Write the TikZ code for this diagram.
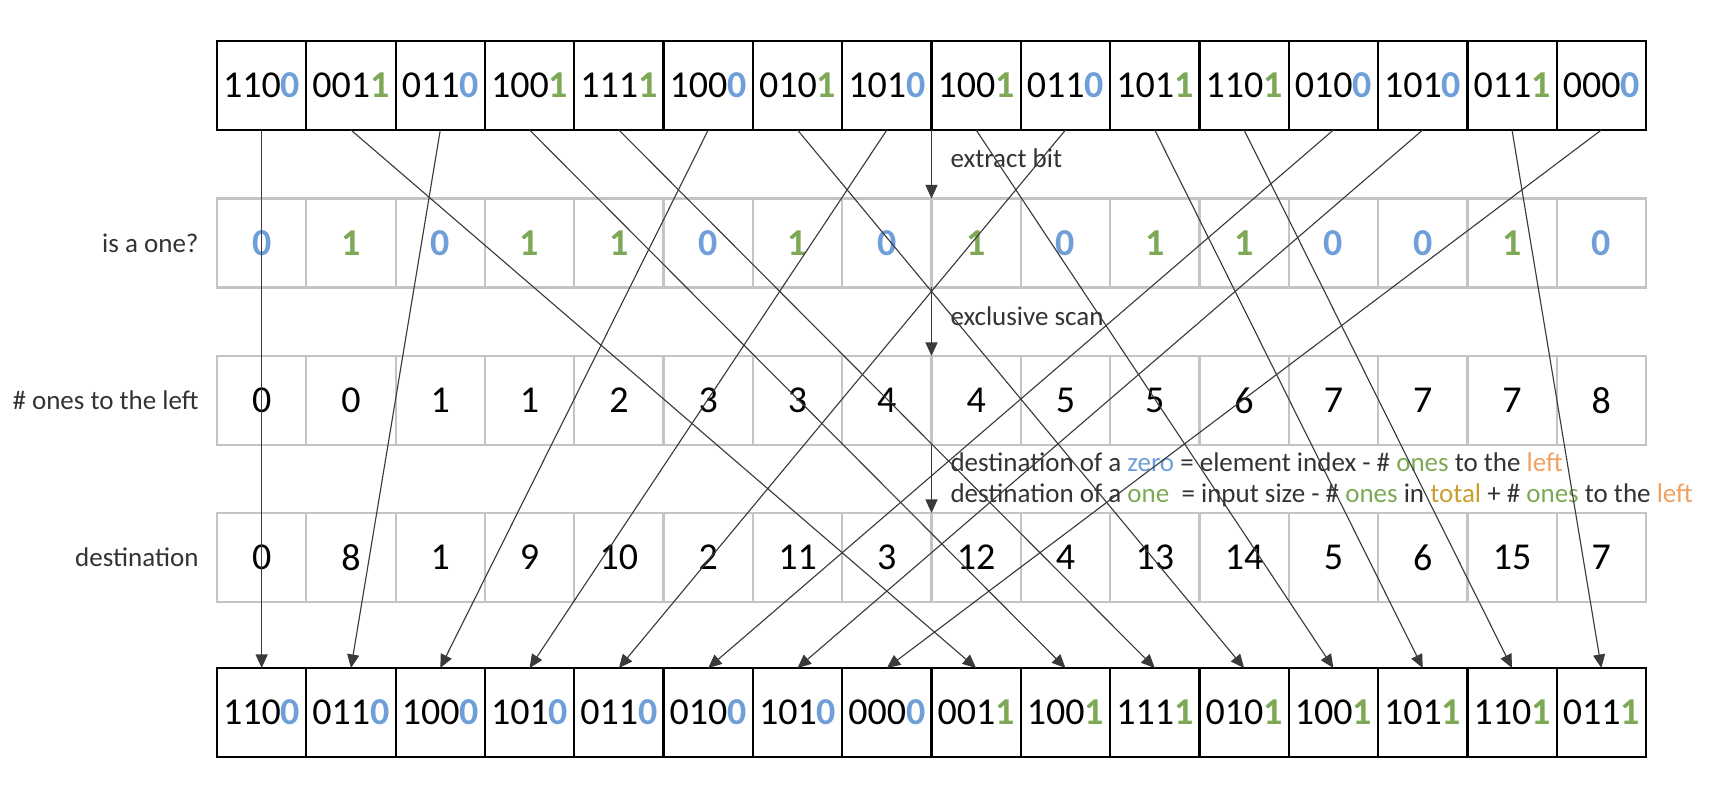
\documentclass[tikz,border=0pt]{standalone}
\usepackage{fontspec}
\setmainfont{Carlito}
\usetikzlibrary{arrows.meta}
\definecolor{zc}{HTML}{6F9FD8}
\definecolor{oc}{HTML}{7DA957}
\definecolor{lc}{HTML}{F0A060}
\definecolor{tc}{HTML}{C9A030}
\definecolor{gc}{HTML}{C4C4C4}
\definecolor{lnc}{HTML}{3A3A3A}
\definecolor{txc}{HTML}{333333}
\begin{document}
\begin{tikzpicture}[x=0.4pt,y=-0.4pt,
  cellbase/.style={minimum width=35.725pt, minimum height=35.6pt, inner sep=0pt, outer sep=0pt, font=\fontsize{15.2}{18}\selectfont},
  cellbk/.style={cellbase, draw=black, line width=0.9pt},
  cellgr/.style={cellbase, draw=gc, line width=0.9pt},
  lab/.style={font=\fontsize{10.8}{13}\selectfont, text=txc, anchor=east, inner sep=0pt},
  ann/.style={font=\fontsize{10.8}{13}\selectfont, text=txc, anchor=west, inner sep=0pt},
  conn/.style={draw=lnc, line width=0.45pt, -{Triangle[width=4.8pt,length=5.4pt]}},
]
\useasboundingbox (0,0) rectangle (1736,792);
\def\cw{89.3125}
% top row
\foreach \p/\b [count=\i from 0] in {110/0,001/1,011/0,100/1,111/1,100/0,010/1,101/0,100/1,011/0,101/1,110/1,010/0,101/0,011/1,000/0}{
  \ifnum\b=0 \def\cc{zc}\else\def\cc{oc}\fi
  \node[cellbk] (t\i) at ({217+(\i+0.5)*\cw},85.5) {\p\textbf{\textcolor{\cc}{\b}}};
}
% is a one
\foreach \b [count=\i from 0] in {0,1,0,1,1,0,1,0,1,0,1,1,0,0,1,0}{
  \ifnum\b=0 \def\cc{zc}\else\def\cc{oc}\fi
  \node[cellgr] (a\i) at ({217+(\i+0.5)*\cw},243) {\textbf{\textcolor{\cc}{\b}}};
}
% scan
\foreach \v [count=\i from 0] in {0,0,1,1,2,3,3,4,4,5,5,6,7,7,7,8}{
  \node[cellgr] (s\i) at ({217+(\i+0.5)*\cw},400.5) {\v};
}
% destination
\foreach \v [count=\i from 0] in {0,8,1,9,10,2,11,3,12,4,13,14,5,6,15,7}{
  \node[cellgr] (d\i) at ({217+(\i+0.5)*\cw},557.5) {\v};
}
% bottom row
\foreach \p/\b [count=\i from 0] in {110/0,011/0,100/0,101/0,011/0,010/0,101/0,000/0,001/1,100/1,111/1,010/1,100/1,101/1,110/1,011/1}{
  \ifnum\b=0 \def\cc{zc}\else\def\cc{oc}\fi
  \node[cellbk] (b\i) at ({217+(\i+0.5)*\cw},712.5) {\p\textbf{\textcolor{\cc}{\b}}};
}
% row labels
\node[lab] (l1) at (199,243) {is a one?};
\node[lab] (l2) at (199,400.5) {\# ones to the left};
\node[lab] (l3) at (199,557.5) {destination};
% annotations
\node[ann] (n1) at (950,158) {extract bit};
\node[ann] (n2) at (950,316) {exclusive scan};
\node[ann] (n3) at (950,462) {destination of a \textcolor{zc}{zero} = element index - \# \textcolor{oc}{ones} to the \textcolor{lc}{left}};
\node[ann] (n4) at (950,495) {destination of a \textcolor{oc}{one}~ = input size - \# \textcolor{oc}{ones} in \textcolor{tc}{total} + \# \textcolor{oc}{ones} to the \textcolor{lc}{left}};
\draw[conn] (t7.south east) -- (a7.north east);
\draw[conn] (a7.south east) -- (s7.north east);
\draw[conn] (s7.south east) -- (d7.north east);
% permutation connectors
\foreach \d [count=\i from 0] in {0,8,1,9,10,2,11,3,12,4,13,14,5,6,15,7}{
  \draw[conn] (t\i.south) -- (b\d.north);
}
\end{tikzpicture}
\end{document}
